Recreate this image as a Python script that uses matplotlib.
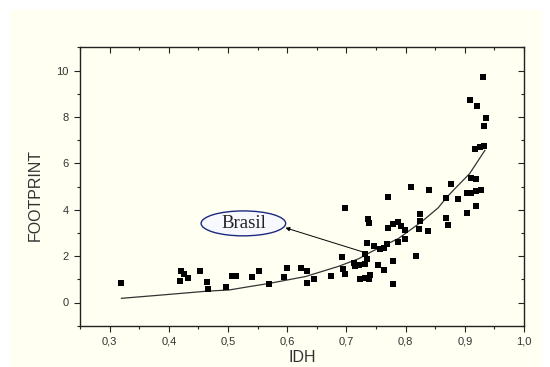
import matplotlib
matplotlib.use('Agg')
import matplotlib.pyplot as plt
from matplotlib.ticker import MultipleLocator, FuncFormatter
from matplotlib.patches import Ellipse, Rectangle

# ---- data ----
idh = [0.319, 0.419, 0.421, 0.426, 0.432, 0.452, 0.464, 0.467, 0.497, 0.506,
       0.513, 0.540, 0.553, 0.569, 0.594, 0.600, 0.624, 0.633, 0.634, 0.646,
       0.674, 0.693, 0.695, 0.698, 0.698, 0.712, 0.715, 0.721, 0.723, 0.731,
       0.732, 0.732, 0.735, 0.735, 0.737, 0.739, 0.739, 0.740, 0.747, 0.754,
       0.757, 0.763, 0.763, 0.768, 0.770, 0.771, 0.778, 0.778, 0.779, 0.787,
       0.788, 0.793, 0.799, 0.799, 0.809, 0.817, 0.822, 0.824, 0.825, 0.838,
       0.840, 0.869, 0.869, 0.871, 0.877, 0.889, 0.904, 0.903, 0.908, 0.911,
       0.911, 0.919, 0.919, 0.919, 0.921, 0.917, 0.925, 0.927, 0.930, 0.932,
       0.932, 0.935]
footprint = [0.83, 0.93, 1.36, 1.24, 1.07, 1.36, 0.88, 0.59, 0.67, 1.13,
             1.13, 1.11, 1.35, 0.80, 1.11, 1.49, 1.47, 1.36, 0.82, 1.01,
             1.16, 1.96, 1.43, 1.22, 4.06, 1.72, 1.57, 1.60, 1.03, 1.65,
             2.08, 1.07, 1.86, 2.55, 3.61, 3.44, 1.00, 1.17, 2.43, 1.60,
             2.29, 2.36, 1.40, 2.51, 3.22, 4.55, 3.37, 0.79, 1.79, 3.48,
             2.61, 3.29, 3.11, 2.72, 4.98, 2.00, 3.15, 3.82, 3.50, 3.08,
             4.87, 4.51, 3.64, 3.36, 5.12, 4.48, 3.87, 4.70, 8.71, 5.37,
             4.73, 5.34, 4.80, 4.15, 8.45, 6.62, 6.71, 4.84, 9.72, 6.76,
             7.61, 7.95]

# fitted curve
fit_idh = [0.320, 0.396, 0.465, 0.502, 0.530, 0.569, 0.631, 0.687, 0.721,
           0.743, 0.788, 0.827, 0.855, 0.869, 0.883, 0.908, 0.934]
fit_fp = [0.18, 0.34, 0.49, 0.54, 0.66, 0.82, 1.12, 1.56, 1.89,
          2.20, 2.76, 3.48, 4.08, 4.52, 4.90, 5.55, 6.56]

label_text = "Brasil"
label_xy = (0.526, 3.41)
arrow_tail = (0.729, 2.17)
arrow_head = (0.597, 3.22)

xlabel = "IDH"
ylabel = "FOOTPRINT"

# ---- figure ----
W, H = 550, 367
bg = '#fffff2'
fig = plt.figure(figsize=(W / 100, H / 100), dpi=100, facecolor='white')
fig.patches.append(Rectangle((10 / W, 0), (542 - 10) / W, (H - 10) / H,
                             transform=fig.transFigure, facecolor=bg,
                             edgecolor='none', zorder=-10))

ax = fig.add_axes([80 / W, 1 - 325.7 / H, 444 / W, 278.4 / H])
ax.set_facecolor('none')

ax.plot(fit_idh, fit_fp, color='#333333', lw=0.9, zorder=2)
ax.plot(idh, footprint, linestyle='none', marker='s', markersize=4.4,
        color='black', markeredgewidth=0, zorder=3)

ell = Ellipse(label_xy, 85 / 595, 25 / 23.26, facecolor='#f8f8ff',
              edgecolor='#1c2a80', lw=1.0, zorder=4)
ax.add_patch(ell)
ax.text(label_xy[0], label_xy[1], label_text, family='Liberation Serif',
        fontsize=13.5, ha='center', va='center', color='#222222', zorder=5)
ax.annotate('', xy=arrow_head, xytext=arrow_tail,
            arrowprops=dict(arrowstyle='-|>', color='black', lw=0.7,
                            mutation_scale=6, shrinkA=0, shrinkB=0),
            zorder=4)

ax.set_xlim(0.25, 1.0)
ax.set_ylim(-1, 11)
ax.xaxis.set_major_locator(MultipleLocator(0.1))
ax.xaxis.set_minor_locator(MultipleLocator(0.05))
ax.yaxis.set_major_locator(MultipleLocator(2))
ax.yaxis.set_minor_locator(MultipleLocator(1))
ax.xaxis.set_major_formatter(FuncFormatter(lambda v, p: f"{v:.1f}".replace('.', ',')))
ax.yaxis.set_major_formatter(FuncFormatter(lambda v, p: f"{v:.0f}"))

tc = '#333333'
for s in ax.spines.values():
    s.set_linewidth(1.0)
    s.set_color('#222222')

ax.tick_params(which='both', bottom=True, left=True, top=False, right=False,
               direction='out', color='#222222', width=0.8,
               labelsize=8, labelcolor=tc, labelfontfamily='Liberation Sans')
ax.tick_params(which='major', length=4.5, pad=3.5)
ax.tick_params(which='minor', length=2.5)

# inward ticks on top/right
sec_x = ax.secondary_xaxis('top')
sec_x.xaxis.set_major_locator(MultipleLocator(0.1))
sec_x.xaxis.set_minor_locator(MultipleLocator(0.05))
sec_x.tick_params(which='both', direction='in', labeltop=False, color='#222222', width=0.8)
sec_x.tick_params(which='major', length=4)
sec_x.tick_params(which='minor', length=2)
sec_x.spines['top'].set_visible(False)
sec_y = ax.secondary_yaxis('right')
sec_y.yaxis.set_major_locator(MultipleLocator(2))
sec_y.yaxis.set_minor_locator(MultipleLocator(1))
sec_y.tick_params(which='both', direction='in', labelright=False, color='#222222', width=0.8)
sec_y.tick_params(which='major', length=4)
sec_y.tick_params(which='minor', length=2)
sec_y.spines['right'].set_visible(False)

ax.set_xlabel(xlabel, family='Liberation Sans', fontsize=11.5, color=tc)
ax.set_ylabel(ylabel, family='Liberation Sans', fontsize=11.5, color=tc)
ax.xaxis.set_label_coords(0.5, -0.088)
ax.yaxis.set_label_coords(-0.085, 0.47)

fig.savefig('out.png', dpi=100, facecolor=fig.get_facecolor())
